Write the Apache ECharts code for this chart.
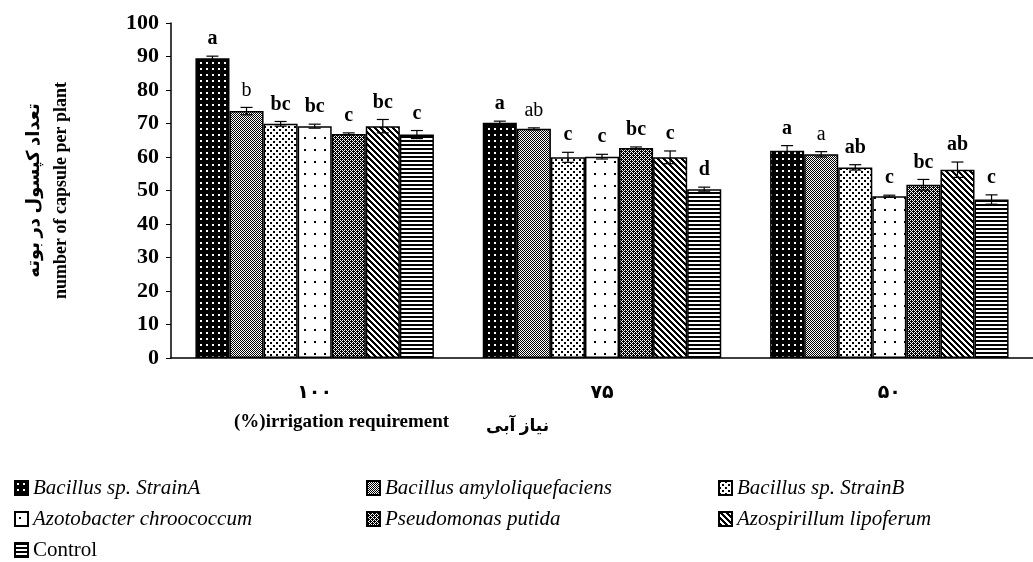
<!DOCTYPE html>
<html>
<head>
<meta charset="utf-8">
<script src="https://cdn.jsdelivr.net/npm/echarts@6/dist/echarts.min.js"></script>
<style>
html,body{margin:0;padding:0;background:#fff;}
#chart{width:1033px;height:562px;}
</style>
</head>
<body>
<div id="chart"></div>
<script>
// ---- data ----
const categories = ['۱۰۰', '۷۵', '۵۰'];
const seriesNames = ['Bacillus sp. StrainA', 'Bacillus amyloliquefaciens', 'Bacillus sp. StrainB',
  'Azotobacter chroococcum', 'Pseudomonas putida', 'Azospirillum lipoferum', 'Control'];
const strainA     = [89.5, 70.2, 61.9];
const amylo       = [73.7, 68.4, 60.8];
const strainB     = [69.9, 59.9, 56.9];
const azotobacter = [69.2, 60.1, 48.3];
const pseudomonas = [66.9, 62.7, 51.7];
const azospirillum= [69.2, 59.9, 56.2];
const control     = [66.7, 50.4, 47.3];
const errStrainA     = [0.6, 0.5, 1.5];
const errAmylo       = [1.1, 0.3, 0.8];
const errStrainB     = [0.7, 1.5, 0.8];
const errAzotobacter = [0.6, 0.7, 0.3];
const errPseudomonas = [0.3, 0.3, 1.6];
const errAzospirillum= [2.0, 1.9, 2.3];
const errControl     = [1.2, 0.6, 1.4];
const letStrainA     = ['a', 'a', 'a'];
const letAmylo       = ['b', 'ab', 'a'];
const letStrainB     = ['bc', 'c', 'ab'];
const letAzotobacter = ['bc', 'c', 'c'];
const letPseudomonas = ['c', 'bc', 'bc'];
const letAzospirillum= ['bc', 'c', 'ab'];
const letControl     = ['c', 'd', 'c'];
const yTicks = {min: 0, max: 100, interval: 10};

const values = [strainA, amylo, strainB, azotobacter, pseudomonas, azospirillum, control];
const errors = [errStrainA, errAmylo, errStrainB, errAzotobacter, errPseudomonas, errAzospirillum, errControl];
const letters = [letStrainA, letAmylo, letStrainB, letAzotobacter, letPseudomonas, letAzospirillum, letControl];

// ---- patterns ----
function pattern(w, h, draw) {
  const c = document.createElement('canvas');
  c.width = w; c.height = h;
  const ctx = c.getContext('2d');
  draw(ctx, w, h);
  return {image: c, repeat: 'repeat'};
}
const patterns = [
  pattern(6, 6, (ctx) => { ctx.fillStyle = '#000'; ctx.fillRect(0,0,6,6); ctx.fillStyle = '#fff'; ctx.fillRect(2,2,2,2); }),
  pattern(2, 2, (ctx) => { ctx.fillStyle = '#fff'; ctx.fillRect(0,0,2,2); ctx.fillStyle = '#000'; ctx.fillRect(0,0,1,1); ctx.fillRect(1,1,1,1); }),
  pattern(6, 6, (ctx) => { ctx.fillStyle = '#fff'; ctx.fillRect(0,0,6,6); ctx.fillStyle = '#000'; ctx.fillRect(0,0,2,2); ctx.fillRect(3,3,2,2); }),
  pattern(10, 12, (ctx) => { ctx.fillStyle = '#fff'; ctx.fillRect(0,0,10,12); ctx.fillStyle = '#000'; ctx.fillRect(4,5,2,2); }),
  pattern(4, 4, (ctx) => { ctx.fillStyle = '#000'; ctx.fillRect(0,0,4,4); ctx.fillStyle = '#fff';
    [[0,0],[2,0],[1,1],[0,2],[2,2],[3,3]].forEach(p => ctx.fillRect(p[0],p[1],1,1)); }),
  pattern(6, 6, (ctx) => { ctx.fillStyle = '#fff'; ctx.fillRect(0,0,6,6); ctx.fillStyle = '#000';
    for (let x = 0; x < 6; x++) for (let y = 0; y < 6; y++) if (((x - y) % 6 + 6) % 6 < 3) ctx.fillRect(x,y,1,1); }),
  pattern(4, 4, (ctx) => { ctx.fillStyle = '#fff'; ctx.fillRect(0,0,4,4); ctx.fillStyle = '#000'; ctx.fillRect(0,0,4,2); })
];

const GAP = 0.17;
const N = seriesNames.length;
const serif = '"Liberation Serif", "Times New Roman", "DejaVu Sans", serif';

const barSeries = seriesNames.map((name, i) => ({
  name: name,
  type: 'bar',
  data: values[i],
  barGap: '0%',
  barCategoryGap: (GAP * 100) + '%',
  itemStyle: {color: patterns[i], borderColor: '#000', borderWidth: 1.5},
  emphasis: {disabled: true},
  z: 2
}));

const errSeries = seriesNames.map((name, i) => ({
  name: 'err' + i,
  type: 'custom',
  data: categories.map((c, j) => [j, values[i][j], errors[i][j]]),
  z: 5,
  silent: true,
  renderItem: function (params, api) {
    const j = api.value(0), v = api.value(1), e = api.value(2);
    const band = api.size([1, 0])[0];
    const bw = band * (1 - GAP) / N;
    const cx = api.coord([j, 0])[0] + (i - (N - 1) / 2) * bw;
    const yT = api.coord([j, v + e])[1];
    const yB = api.coord([j, v - e])[1];
    const half = 6;
    const ls = {stroke: '#000', lineWidth: 1.2};
    return {
      type: 'group',
      children: [
        {type: 'line', shape: {x1: cx, y1: yT, x2: cx, y2: yB}, style: ls},
        {type: 'line', shape: {x1: cx - half, y1: yT, x2: cx + half, y2: yT}, style: ls},
        {type: 'line', shape: {x1: cx - half, y1: yB, x2: cx + half, y2: yB}, style: ls},
        {type: 'text', style: {
          text: letters[i][params.dataIndex], x: cx, y: yT - 7,
          align: 'center', verticalAlign: 'bottom',
          fontSize: 20, fontWeight: i === 1 ? 'normal' : 'bold',
          fontFamily: serif, fill: '#000'
        }}
      ]
    };
  }
}));

function legendCol(left, names) {
  return {
    orient: 'vertical', left: left, top: 477, padding: 0,
    itemWidth: 13, itemHeight: 14, itemGap: 9,
    icon: 'rect', selectedMode: false,
    data: names.map(n => n === 'Control'
      ? {name: n, textStyle: {fontStyle: 'normal'}}
      : {name: n}),
    textStyle: {fontFamily: serif, fontStyle: 'italic', fontSize: 21, lineHeight: 22, color: '#000'}
  };
}

const chart = echarts.init(document.getElementById('chart'), null, {renderer: 'canvas'});
chart.setOption({
  animation: false,
  backgroundColor: '#fff',
  grid: {left: 171, top: 23, width: 870, height: 335, containLabel: false},
  xAxis: {
    type: 'category',
    data: categories,
    axisLine: {lineStyle: {color: '#000', width: 1.5}},
    axisTick: {length: 7, lineStyle: {color: '#000', width: 1}},
    axisLabel: {color: '#000', fontSize: 19, fontWeight: 'bold', fontFamily: serif, margin: 26}
  },
  yAxis: {
    type: 'value',
    min: yTicks.min, max: yTicks.max, interval: yTicks.interval,
    splitLine: {show: false},
    axisLine: {show: true, lineStyle: {color: '#000', width: 1.5}},
    axisTick: {show: true, length: 5, lineStyle: {color: '#000', width: 1}},
    axisLabel: {color: '#000', fontSize: 22, fontWeight: 'bold', fontFamily: serif, margin: 12},
    name: 'تعداد کپسول در بوته\nnumber of capsule per plant',
    nameLocation: 'middle',
    nameRotate: 90,
    nameGap: 96,
    nameTextStyle: {color: '#000', fontSize: 18, fontWeight: 'bold', fontFamily: serif, lineHeight: 27}
  },
  legend: [
    legendCol(14, [seriesNames[0], seriesNames[3], seriesNames[6]]),
    legendCol(366, [seriesNames[1], seriesNames[4]]),
    legendCol(718, [seriesNames[2], seriesNames[5]])
  ],
  graphic: [
    {type: 'text', left: 234, top: 413, style: {text: '(%)irrigation requirement', fontSize: 19, fontWeight: 'bold', fontFamily: serif, fill: '#000'}},
    {type: 'text', left: 486, top: 418, style: {text: 'نیاز آبی', fontSize: 17, fontWeight: 'bold', fontFamily: serif, fill: '#000'}}
  ],
  series: barSeries.concat(errSeries)
});
</script>
</body>
</html>
